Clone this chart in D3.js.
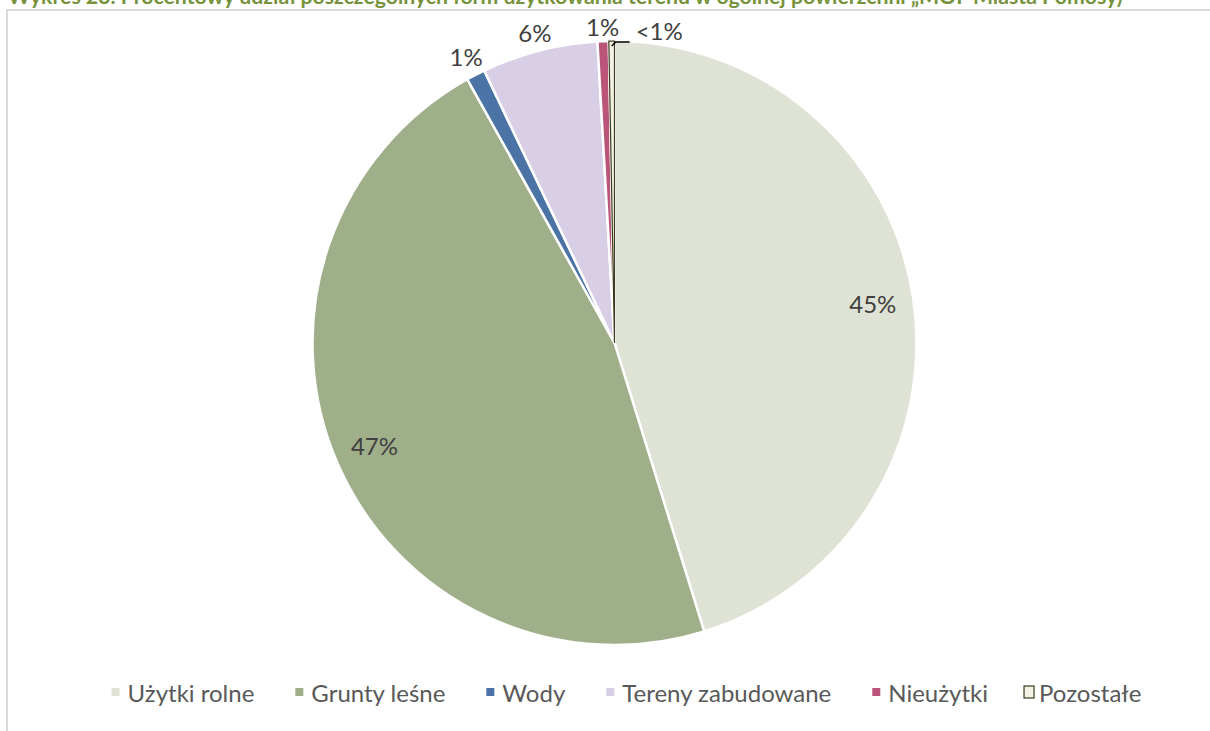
<!DOCTYPE html>
<html><head><meta charset="utf-8">
<script src="https://cdn.jsdelivr.net/npm/d3@7"></script>
<style>
body{margin:0;background:#fff;overflow:hidden}
svg{display:block;font-family:Lato,'Open Sans',sans-serif}
</style>
</head><body>
<svg id="c" width="1210" height="731"></svg>
<script>
// ---- data ----
const categories = ["Użytki rolne", "Grunty leśne", "Wody", "Tereny zabudowane", "Nieużytki", "Pozostałe"];
const shares = [45.2, 46.7, 1.0, 6.2, 0.6, 0.3];
const shareLabels = ["45%", "47%", "1%", "6%", "1%", "<1%"];
const titleText = "Wykres 23. Procentowy udział poszczególnych form użytkowania terenu w ogólnej powierzchni „MOF Miasta Pomosy)";

// ---- styles ----
const fills = ["#DFE3D5", "#9FAF8A", "#4B73A5", "#D8CEE6", "#BA5579", "#F3F1E3"];
const outlineDark = "#3B3B1E";

const svg = d3.select("#c");
const W = 1210, H = 731;
const cx = 614.5, cy = 343, R = 302;

// frame
svg.append("rect").attr("x", 7).attr("y", 10).attr("width", W + 20).attr("height", H + 20)
  .attr("fill", "#fff").attr("stroke", "#D9D9D9").attr("stroke-width", 2);

// title (clipped at top, as in the source)
const title = svg.append("text").attr("x", 8).attr("y", 3.5)
  .attr("fill", "#76923C").attr("font-weight", "bold").attr("font-size", 18).text(titleText);
const tw = title.node().getComputedTextLength();
title.attr("font-size", 18 * 1115 / tw);

const data = categories.map((c, i) => ({ name: c, value: shares[i], label: shareLabels[i], fill: fills[i], i }));
const pie = d3.pie().sort(null).value(d => d.value);
const arcs = pie(data);
const arc = d3.arc().innerRadius(0).outerRadius(R);

const g = svg.append("g").attr("transform", `translate(${cx},${cy})`);
g.selectAll("path.slice").data(arcs).join("path")
  .attr("class", "slice")
  .attr("d", arc)
  .attr("fill", d => d.data.fill)
  .attr("stroke", "#fff").attr("stroke-width", 2.5).attr("stroke-linejoin", "round");
// outlined last slice
const last = arcs[arcs.length - 1];
g.append("path").attr("d", arc(last)).attr("fill", last.data.fill)
  .attr("stroke", outlineDark).attr("stroke-width", 1.2);

// labels
const labelG = g.append("g").attr("font-size", 24).attr("fill", "#404040");
arcs.forEach((a, k) => {
  const mid = (a.startAngle + a.endAngle) / 2;
  const sx = Math.sin(mid), sy = -Math.cos(mid);
  const t = labelG.append("text").attr("text-anchor", "middle").attr("dominant-baseline", "central").text(a.data.label);
  if (a.data.value >= 10) {
    const r = R * 0.865;
    t.attr("x", sx * r).attr("y", sy * r);
  } else if (k < arcs.length - 1) {
    const bb = t.node().getBBox();
    const r = R + 3 + Math.abs(sx) * bb.width / 2 + Math.abs(sy) * bb.height * 0.4;
    t.attr("x", sx * r).attr("y", sy * r);
  } else {
    // leader line label
    const p0 = [sx * (R - 5), sy * (R - 5)];
    const p1 = [p0[0] + 4, -R + 1];
    const p2 = [p1[0] + 14, p1[1]];
    g.append("path").attr("d", d3.line()([p0, p1, p2])).attr("fill", "none")
      .attr("stroke", "#000").attr("stroke-width", 1.6);
    t.attr("text-anchor", "start").attr("x", p2[0] + 6).attr("y", p2[1] - 12);
  }
});

// legend
const legend = svg.append("g").attr("font-size", 24).attr("fill", "#595959");
const items = data.map(d => {
  const it = legend.append("g");
  const t = it.append("text").attr("dominant-baseline", "central").text(d.name);
  return { d, it, t, w: t.node().getComputedTextLength() };
});
const markW = 8, markGap = 8, itemGap = 41;
const total = d3.sum(items, o => markW + markGap + o.w) + itemGap * (items.length - 1);
let x = 629.5 - total / 2;
const ly = 692;
items.forEach((o, i) => {
  if (i === items.length - 1) {
    o.it.append("rect").attr("x", x - 5).attr("y", ly - 6).attr("width", 10).attr("height", 12)
      .attr("fill", o.d.fill).attr("stroke", outlineDark).attr("stroke-width", 1.2);
    o.t.attr("x", x + markW + 2).attr("y", ly);
  } else {
    o.it.append("rect").attr("x", x).attr("y", ly - 4).attr("width", markW).attr("height", markW).attr("fill", o.d.fill);
    o.t.attr("x", x + markW + markGap).attr("y", ly);
  }
  x += markW + markGap + o.w + itemGap;
});
</script>
</body></html>
